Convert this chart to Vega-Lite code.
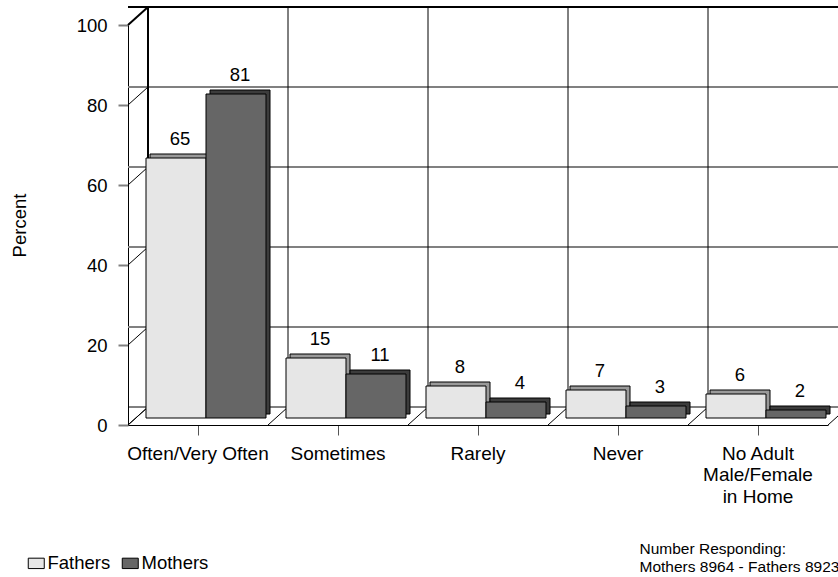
{
  "$schema": "https://vega.github.io/schema/vega-lite/v6.json",
  "width": 700,
  "height": 400,
  "autosize": "none",
  "padding": {"left": 128, "top": 25, "right": 10, "bottom": 152},
  "config": {
    "font": "Liberation Sans",
    "view": {"stroke": null},
    "axis": {"labelFont": "Liberation Sans", "titleFont": "Liberation Sans"},
    "legend": {"labelFont": "Liberation Sans"}
  },
  "resolve": {"scale": {"xOffset": "independent"}},
  "datasets": {
    "bars": [
      {"cat": "Often/Very Often", "series": "Fathers", "value": 65},
      {"cat": "Often/Very Often", "series": "Mothers", "value": 81},
      {"cat": "Sometimes", "series": "Fathers", "value": 15},
      {"cat": "Sometimes", "series": "Mothers", "value": 11},
      {"cat": "Rarely", "series": "Fathers", "value": 8},
      {"cat": "Rarely", "series": "Mothers", "value": 4},
      {"cat": "Never", "series": "Fathers", "value": 7},
      {"cat": "Never", "series": "Mothers", "value": 3},
      {"cat": "No Adult Male/Female in Home", "series": "Fathers", "value": 6},
      {"cat": "No Adult Male/Female in Home", "series": "Mothers", "value": 2}
    ],
    "cats": [
      {"cat": "Often/Very Often"},
      {"cat": "Sometimes"},
      {"cat": "Rarely"},
      {"cat": "Never"},
      {"cat": "No Adult Male/Female in Home"}
    ],
    "grid": [{"v": 0}, {"v": 20}, {"v": 40}, {"v": 60}, {"v": 80}, {"v": 100}]
  },
  "layer": [
    {
      "data": {"name": "grid"},
      "mark": {"type": "rule", "xOffset": 20, "x2Offset": 20, "yOffset": -18},
      "encoding": {
        "y": {
          "field": "v",
          "type": "quantitative",
          "scale": {"domain": [0, 100], "nice": false},
          "axis": {
            "orient": "left",
            "values": [0, 5, 10, 15, 20, 25, 30, 35, 40, 45, 50, 55, 60, 65, 70, 75, 80, 85, 90, 95, 100],
            "labelExpr": "datum.value % 20 == 0 ? datum.label : ''",
            "domainColor": "#000000",
            "domainWidth": 1,
            "tickColor": "#808080",
            "tickWidth": 2,
            "tickSize": {"condition": {"test": "datum.value % 20 == 0", "value": 10}, "value": 5},
            "labelFontSize": 18.5,
            "labelColor": "#000000",
            "labelPadding": 11,
            "grid": false,
            "title": "Percent",
            "titleX": -103,
            "titleY": 200,
            "titleAngle": -90,
            "titleAlign": "center",
            "titleBaseline": "alphabetic",
            "titleFontSize": 18.5,
            "titleFontWeight": "normal",
            "titleColor": "#000000"
          }
        },
        "color": {"condition": {"test": "datum.v == 0 || datum.v == 100", "value": "#000000"}, "value": "#808080"},
        "strokeWidth": {"condition": {"test": "datum.v == 0", "value": 1}, "value": 2}
      }
    },
    {
      "data": {"name": "cats"},
      "mark": {"type": "rule", "xOffset": 20, "x2Offset": 20, "yOffset": -18, "y2Offset": -18, "color": "#000000"},
      "encoding": {
        "x": {
          "field": "cat",
          "type": "nominal",
          "bandPosition": 0,
          "sort": null,
          "scale": {"type": "band", "paddingInner": 0, "paddingOuter": 0, "domain": ["Often/Very Often", "Sometimes", "Rarely", "Never", "No Adult Male/Female in Home"]},
          "axis": {
            "orient": "bottom",
            "domainColor": "#000000",
            "domainWidth": 1,
            "tickColor": "#555555",
            "tickWidth": 1,
            "tickSize": 10,
            "bandPosition": 0.5,
            "labelAngle": 0,
            "labelFontSize": 19,
            "labelColor": "#000000",
            "labelPadding": 9,
            "labelLineHeight": 21.5,
            "labelBaseline": "top",
            "labelExpr": "datum.value == 'No Adult Male/Female in Home' ? ['No Adult', 'Male/Female', 'in Home'] : datum.value",
            "grid": false,
            "title": ["Number Responding:", "Mothers 8964 - Fathers 8923"],
            "titleX": 511,
            "titleY": 128,
            "titleAlign": "left",
            "titleBaseline": "alphabetic",
            "titleAngle": 0,
            "titleFontSize": 15.5,
            "titleFontWeight": "normal",
            "titleLineHeight": 18.5,
            "titleColor": "#000000"
          }
        },
        "y": {"datum": 0, "type": "quantitative"},
        "y2": {"datum": 100},
        "strokeWidth": {"condition": {"test": "datum.cat == 'Often/Very Often'", "value": 2}, "value": 1}
      }
    },
    {
      "data": {"name": "grid"},
      "mark": {"type": "rule", "x2Offset": 20, "y2Offset": -18, "color": "#000000"},
      "encoding": {
        "x": {"datum": "Often/Very Often", "type": "nominal", "bandPosition": 0},
        "x2": {"datum": "Often/Very Often", "bandPosition": 0},
        "y": {"field": "v", "type": "quantitative"},
        "y2": {"field": "v"},
        "strokeWidth": {"condition": {"test": "datum.v == 100", "value": 2}, "value": 1}
      }
    },
    {
      "data": {"name": "cats"},
      "mark": {"type": "rule", "x2Offset": 20, "y2Offset": -18, "color": "#000000", "strokeWidth": 1},
      "encoding": {
        "x": {"field": "cat", "type": "nominal", "bandPosition": 0, "sort": null},
        "x2": {"field": "cat", "bandPosition": 0},
        "y": {"datum": 0, "type": "quantitative"},
        "y2": {"datum": 0}
      }
    },
    {
      "data": {"name": "cats"},
      "transform": [{"filter": "datum.cat == 'No Adult Male/Female in Home'"}],
      "mark": {"type": "rule", "x2Offset": 20, "y2Offset": -18, "color": "#000000", "strokeWidth": 1},
      "encoding": {
        "x": {"field": "cat", "type": "nominal", "bandPosition": 1, "sort": null},
        "x2": {"field": "cat", "bandPosition": 1},
        "y": {"datum": 0, "type": "quantitative"},
        "y2": {"datum": 0}
      }
    },
    {
      "data": {"name": "bars"},
      "mark": {"type": "bar", "yOffset": -11, "y2Offset": -11, "stroke": "#000000", "strokeWidth": 1},
      "encoding": {
        "x": {"field": "cat", "type": "nominal", "sort": null},
        "xOffset": {"field": "series", "type": "nominal", "scale": {"range": [22, 142], "paddingOuter": 0, "paddingInner": 0}},
        "y": {"field": "value", "type": "quantitative"},
        "y2": {"datum": 0},
        "fill": {"condition": {"test": "datum.series == 'Fathers'", "value": "#9a9a9a"}, "value": "#3c3c3c"}
      }
    },
    {
      "data": {"name": "bars"},
      "mark": {"type": "bar", "yOffset": -7, "y2Offset": -7, "stroke": "#000000", "strokeWidth": 1},
      "encoding": {
        "x": {"field": "cat", "type": "nominal", "sort": null},
        "xOffset": {"field": "series", "type": "nominal", "scale": {"range": [18, 138], "paddingOuter": 0, "paddingInner": 0}},
        "y": {"field": "value", "type": "quantitative"},
        "y2": {"datum": 0},
        "fill": {
          "field": "series",
          "type": "nominal",
          "scale": {"domain": ["Fathers", "Mothers"], "range": ["#e6e6e6", "#666666"]},
          "legend": {
            "orient": "none",
            "legendX": -101,
            "legendY": 529,
            "direction": "horizontal",
            "title": null,
            "symbolType": "M-1,-0.65H1V0.65H-1Z",
            "symbolSize": 256,
            "symbolStrokeColor": "#000000",
            "symbolStrokeWidth": 1,
            "labelFontSize": 18.5,
            "labelColor": "#000000",
            "labelOffset": 2,
            "columnPadding": 9
          }
        }
      }
    },
    {
      "data": {"name": "bars"},
      "mark": {"type": "text", "yOffset": -20, "baseline": "alphabetic", "align": "center", "fontSize": 18.5, "color": "#000000"},
      "encoding": {
        "x": {"field": "cat", "type": "nominal", "sort": null},
        "xOffset": {"field": "series", "type": "nominal", "scale": {"type": "point", "range": [52, 112], "padding": 0}},
        "y": {"field": "value", "type": "quantitative"},
        "text": {"field": "value", "type": "quantitative"}
      }
    }
  ]
}
